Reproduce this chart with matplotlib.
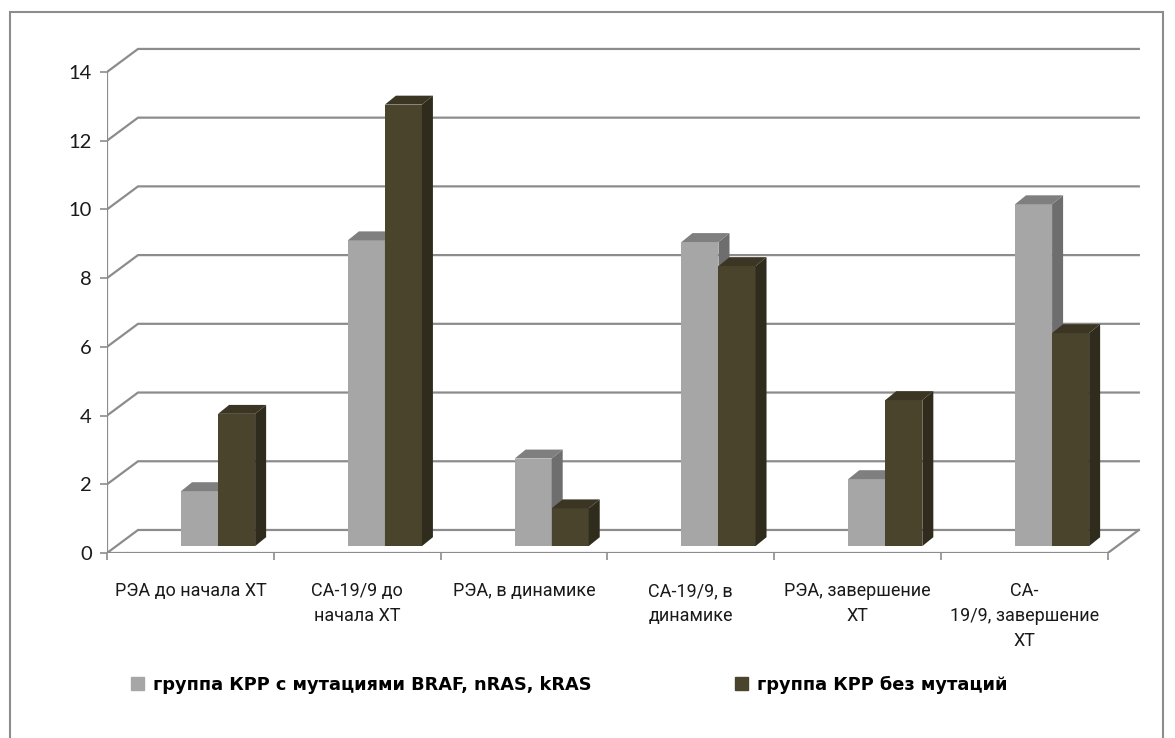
import matplotlib
matplotlib.use("Agg")
import matplotlib.pyplot as plt
from matplotlib.patches import Polygon, Patch, Rectangle

# data
categories = ["РЭА до начала ХТ", "СА-19/9 до\nначала ХТ", "РЭА, в динамике",
              "СА-19/9, в\nдинамике", "РЭА, завершение\nХТ", "СА-\n19/9, завершение\nХТ"]
series_names = ["группа КРР с мутациями BRAF, nRAS, kRAS", "группа КРР без мутаций"]
mut_vals = [1.6, 8.9, 2.55, 8.85, 1.95, 9.95]
nomut_vals = [3.85, 12.85, 1.1, 8.15, 4.25, 6.2]
yticks = [0, 2, 4, 6, 8, 10, 12, 14]

# colours: front, side, top
grey_c = ("#a6a6a6", "#6e6e6e", "#7f7f7f")
dark_c = ("#4a442d", "#302c1d", "#3b3523")
grid_c = "#8c8c8c"

# fake 3d geometry (data units)
back_dx, back_dy = 0.186, 0.67     # back wall offset
bar_base = 0.2                     # bars stand a bit behind the front edge
side_dx, side_dy = 0.066, 0.26     # bar depth
bar_w = 0.222
bar_x0 = 0.444

fig = plt.figure(figsize=(11.75, 7.38), dpi=100)
ax = fig.add_axes([107 / 1175, 185 / 738, 6.25 * 166.8 / 1175, 513 / 738])
ax.set_xlim(0, 6.25)
ax.set_ylim(0, 513 / 34.36)
for s in ax.spines.values():
    s.set_visible(False)

# back wall gridlines and the diagonals to the front axis
for k in yticks:
    ax.plot([0, back_dx, 6 + back_dx], [k, k + back_dy, k + back_dy],
            color=grid_c, lw=1.6, zorder=1, solid_joinstyle="miter")
# front axis and floor
ax.plot([0, 0], [0, 14], color=grid_c, lw=1.6, zorder=1)
ax.plot([0, 6, 6 + back_dx], [0, 0, back_dy], color=grid_c, lw=1.6, zorder=1)


def draw_bar(x0, val, cols):
    x1 = x0 + bar_w
    top = bar_base + val
    ax.bar(x0, val, width=bar_w, bottom=bar_base, align="edge",
           color=cols[0], lw=0, zorder=3)
    side = [(x1, bar_base), (x1 + side_dx, bar_base + side_dy),
            (x1 + side_dx, top + side_dy), (x1, top)]
    cap = [(x0, top), (x0 + side_dx, top + side_dy),
           (x1 + side_dx, top + side_dy), (x1, top)]
    ax.add_patch(Polygon(side, closed=True, color=cols[1], lw=0, zorder=3))
    ax.add_patch(Polygon(cap, closed=True, color=cols[2], lw=0, zorder=3))


for i in range(len(categories)):
    draw_bar(i + bar_x0, mut_vals[i], grey_c)
    draw_bar(i + bar_x0 + bar_w, nomut_vals[i], dark_c)

# ticks
ax.set_yticks(yticks)
ax.set_yticklabels([str(v) for v in yticks], fontsize=14.5, family=["Lato", "DejaVu Sans"])
ax.set_xticks(range(7))
ax.set_xticklabels([])
ax.set_xticks([i + 0.5 for i in range(6)], minor=True)
ax.set_xticklabels(categories, minor=True, fontsize=13,
                   family=["Roboto", "DejaVu Sans"], linespacing=1.5)
ax.tick_params(axis="y", length=5, width=1.2, color=grid_c, pad=6, colors="#1a1a1a")
ax.tick_params(axis="y", color=grid_c)
ax.tick_params(axis="x", which="major", length=5, width=1.2, color=grid_c)
ax.tick_params(axis="x", which="minor", length=0, pad=21, colors="#1a1a1a")
for lbl in ax.get_xticklabels(minor=True):
    lbl.set_verticalalignment("top")

# outer chart border
fig.add_artist(Rectangle((10 / 1175, -0.05), 1153 / 1175, 1.05 - 12 / 738,
                         transform=fig.transFigure, fill=False,
                         edgecolor=grid_c, lw=1.5))

# legend, two entries placed separately
leg_kw = dict(frameon=False, handlelength=0.75, handleheight=0.75,
              handletextpad=0.5, borderpad=0, borderaxespad=0,
              prop={"family": "DejaVu Sans", "weight": "bold", "size": 12.8})
fig.legend(handles=[Patch(color=grey_c[0], label=series_names[0])],
           loc="center left", bbox_to_anchor=(131 / 1175, 1 - 685 / 738), **leg_kw)
fig.legend(handles=[Patch(color=dark_c[0], label=series_names[1])],
           loc="center left", bbox_to_anchor=(735 / 1175, 1 - 685 / 738), **leg_kw)

fig.savefig("out.png", dpi=100)
